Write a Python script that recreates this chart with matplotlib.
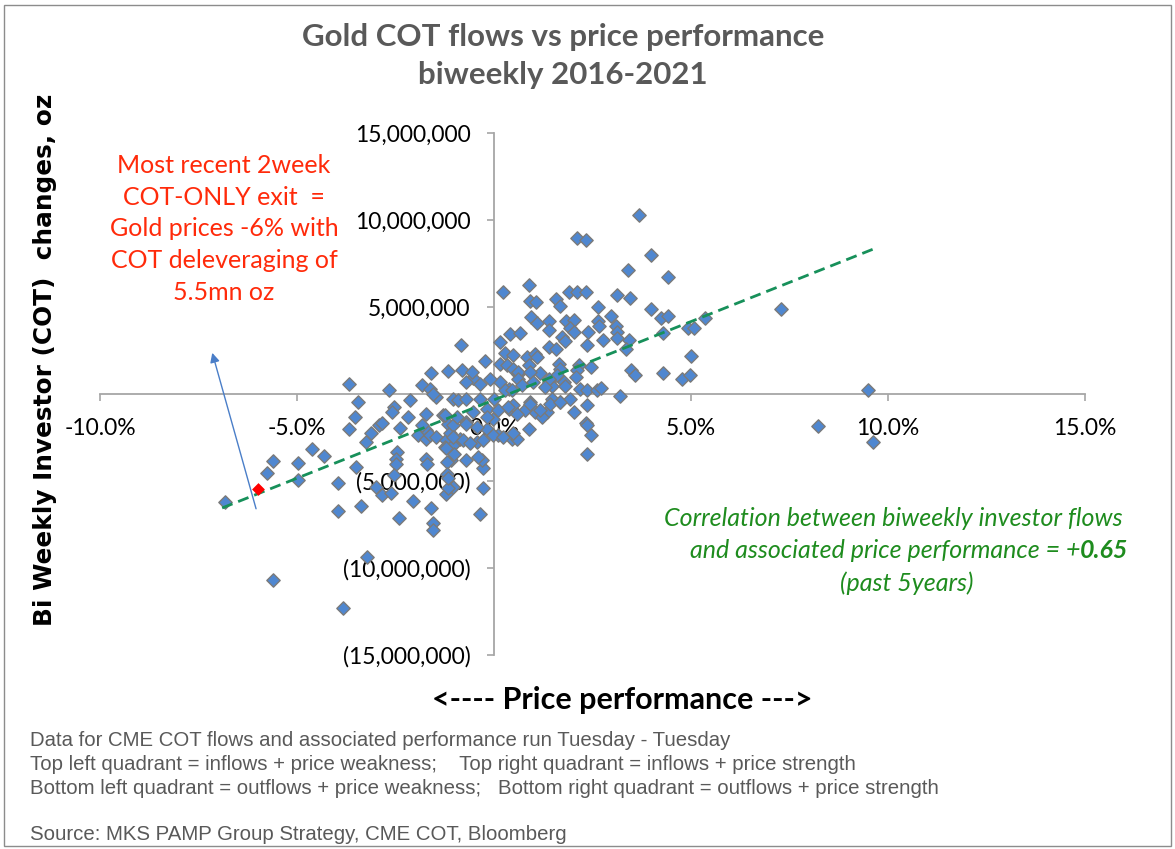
import numpy as np
import matplotlib
matplotlib.use('Agg')
from matplotlib import pyplot as plt
from matplotlib.ticker import FuncFormatter

# price change over two weeks, %
price_pct = [
    3.67, 2.11, 2.33, 3.98, 3.40, 4.42, 0.88, 0.22, 1.90, 2.11, 2.33, 1.58, 1.67, 0.92, 1.06,
    3.13, 3.45, 2.65, 2.96, 3.98, 4.23, 4.41, 5.36, 4.92, 5.08, 4.28, 5.00, 3.47, 3.57, 4.30,
    4.78, 4.98, 3.20, 2.64, 2.66, 3.09, 3.13, 2.76, 3.11, 3.43, 3.36, 1.84, 2.04, 0.94, 1.09,
    1.39, 1.94, 2.04, 1.39, 0.41, 0.65, 0.15, 2.38, 1.73, 1.81, 2.35, 1.39, 1.58, 0.28, 0.47,
    0.83, 1.05, 1.09, 0.90, 0.15, 0.32, 0.49, 0.62, 1.17, 1.64, 1.67, 1.61, 2.15, 2.11, 2.45,
    2.07, 1.39, 1.47, 1.77, 1.81, 2.19, 2.36, 2.62, 2.72, 0.39, 0.14, -0.10, 0.62, 0.62, 0.71,
    0.92, 0.99, 0.28, 0.45, 1.39, 1.30, 7.28, 9.49,
    0.92, 1.05, 1.34, 1.47, 1.68, 1.92, 0.38, 0.49, 0.79, 1.22, 2.04, 2.35, 2.33, 0.88, 2.35,
    2.45, 2.36, 0.11, 0.45, 0.58, 8.23, 9.61,
    -0.29, -0.31, -0.27, -0.36, -0.70, -0.40, -1.08, -6.84, -5.77, -5.61, -4.97, -4.97, -4.61,
    -4.31, -3.46, -3.52, -3.69, -3.25, -3.12, -2.91, -2.84, -3.95, -3.95, -3.38, -3.50, -2.55,
    -2.58, -2.14, -2.19, -2.38, -2.47, -2.48, -2.48, -2.55, -2.99, -2.84, -2.61, -2.42, -2.06,
    -1.59, -1.55, -1.55, -1.93, -1.72, -1.72, -1.84, -1.72, -1.69, -1.19, -1.19, -1.21, -1.04,
    -5.61, -3.83, -3.22, -1.72, -1.48, -1.63, -1.29, -1.17, -1.46, -1.21, -1.12, -1.25, -1.04,
    -1.02, -1.16, -1.16,
    -3.69, -2.67, -1.82, -1.63, -1.55, -1.59, -1.17, -0.82, -0.85, -0.53, -0.23, -0.57, -0.71,
    -0.36,
    -1.25, -1.04, -0.91, -0.70, -0.53, -0.36, -0.19, -0.70, -1.04, -0.87, -0.44, -0.19, -0.02,
    -1.21, 0.00, -0.95, -0.70, -0.44, -0.19, 0.11, 0.36, 0.58, 0.92, 1.17, 1.43, 1.68, -1.04,
    -0.78, -0.61, -0.27, -0.02, 0.24, 0.49,
]

# change in investor COT positioning, million oz
cot_mn_oz = [
    10.30, 8.98, 8.83, 8.00, 7.14, 6.70, 6.28, 5.84, 5.84, 5.84, 5.84, 5.45, 5.07, 5.36, 5.27,
    5.70, 5.49, 5.02, 4.46, 4.88, 4.35, 4.46, 4.35, 3.78, 3.78, 3.49, 2.21, 1.36, 1.10, 1.22,
    0.84, 1.10, -0.13, 4.22, 3.89, 3.89, 3.59, 3.13, 3.21, 3.13, 2.56, 4.22, 4.28, 4.41, 4.08,
    4.22, 3.78, 3.59, 3.65, 3.45, 3.51, 2.98, 3.55, 3.26, 3.07, 2.84, 2.69, 2.56, 2.37, 2.25,
    2.12, 2.31, 2.12, 1.64, 1.73, 1.68, 1.45, 1.16, 1.22, 1.73, 1.45, 1.07, 1.68, 1.36, 1.55,
    0.97, 0.69, 0.46, 0.69, 0.46, 0.30, 0.21, 0.21, 0.34, 0.30, 0.69, 0.88, 1.26, 0.88, 0.50,
    1.26, 0.69, 0.21, 0.21, 0.88, 0.40, 4.88, 0.25,
    -0.46, -1.03, -1.03, -0.27, -0.46, -0.27, -0.84, -0.65, -0.93, -1.32, -1.03, -0.61, -1.64,
    -1.99, -1.76, -2.33, -3.42, -2.37, -2.56, -2.60, -1.83, -2.75,
    -4.24, -3.80, -5.38, -6.90, -3.80, -3.60, -3.80, -6.18, -4.56, -3.85, -3.99, -4.94, -3.17,
    -3.55, -0.46, -1.32, -2.02, -2.75, -2.27, -1.76, -1.64, -5.13, -6.75, -6.41, -4.18, -0.74,
    -1.03, -0.36, -1.32, -1.95, -3.32, -3.74, -4.05, -4.65, -5.32, -5.80, -5.71, -7.10, -6.14,
    -6.57, -7.42, -7.80, -2.33, -2.08, -2.60, -1.76, -3.74, -4.05, -3.93, -4.62, -5.76, -5.32,
    -10.67, -12.29, -9.39, -1.16, -0.17, -2.37, -1.22, -1.70, -2.46, -2.65, -2.27, -3.03, -2.94,
    -3.42, -5.42, -4.85,
    0.59, 0.21, 0.50, 0.27, 0.02, 1.22, 1.30, 1.36, 2.79, 0.92, 1.87, 1.26, 0.69,
    0.59,
    -1.18, -0.27, -0.36, -0.27, -1.03, -0.27, -0.84, -1.60, -1.79, -2.56, -2.75, -1.99, -1.41,
    -3.13, -0.27, -1.32, -1.70, -1.89, -1.32, -0.93, -0.74, -1.13, -0.56, -0.93, -0.56, -0.46, -2.46,
    -2.65, -2.84, -2.65, -2.37, -2.46, -2.27,
]

# latest two-week reading
latest_pct = -5.99
latest_mn_oz = -5.48

# linear trend end points
trend_pct = [-6.9, 9.65]
trend_mn_oz = [-6.55, 8.35]

# arrow from the latest point towards the note
arrow_tail = (-6.02, -6.75)
arrow_head = (-7.17, 2.52)

x_ticks = [-10, -5, 0, 5, 10, 15]
y_ticks = [-15e6, -10e6, -5e6, 0, 5e6, 10e6, 15e6]

title = 'Gold COT flows vs price performance\nbiweekly 2016-2021'
note_red = 'Most recent 2week\nCOT-ONLY exit  =\nGold prices -6% with\nCOT deleveraging of\n5.5mn oz'
footnotes = [
    'Data for CME COT flows and associated performance run Tuesday - Tuesday',
    'Top left quadrant = inflows + price weakness;    Top right quadrant = inflows + price strength',
    'Bottom left quadrant = outflows + price weakness;   Bottom right quadrant = outflows + price strength',
]
source = 'Source: MKS PAMP Group Strategy, CME COT, Bloomberg'

plt.rcParams['font.family'] = ['Lato', 'DejaVu Sans']

fig = plt.figure(figsize=(11.75, 8.49), dpi=100)
ax = fig.add_axes([100 / 1175, 1 - 655 / 849, 985 / 1175, 522 / 849])

y_vals = np.array(cot_mn_oz) * 1e6
ax.scatter(price_pct, y_vals, marker='D', s=46, color='#4F87D0',
           edgecolors='#7A7A7A', linewidths=1.0, zorder=3)
ax.scatter([latest_pct], [latest_mn_oz * 1e6], marker='D', s=36, color='#FF0000',
           edgecolors='#FF0000', linewidths=0.5, zorder=5)
ax.plot(trend_pct, np.array(trend_mn_oz) * 1e6, linestyle=(0, (4, 2.2)), color='#17905A',
        linewidth=2.0, zorder=4)
ax.annotate('', xy=(arrow_head[0], arrow_head[1] * 1e6),
            xytext=(arrow_tail[0], arrow_tail[1] * 1e6),
            arrowprops=dict(arrowstyle='-|>', color='#4A7EC8', lw=1.0, mutation_scale=14),
            zorder=6)

ax.set_xlim(-10, 15)
ax.set_ylim(-15e6, 15e6)
ax.set_xticks(x_ticks)
ax.set_yticks(y_ticks)
ax.xaxis.set_major_formatter(FuncFormatter(lambda v, p: f'{v:.1f}%'))


def fmt_oz(v, p):
    if v == 0:
        return ''
    if v < 0:
        return f'({abs(v):,.0f})'
    return f'{v:,.0f}'


ax.yaxis.set_major_formatter(FuncFormatter(fmt_oz))

for side in ['top', 'right']:
    ax.spines[side].set_visible(False)
ax.spines['left'].set_position(('data', 0))
ax.spines['bottom'].set_position(('data', 0))
for side in ['left', 'bottom']:
    ax.spines[side].set_color('#A6A6A6')
    ax.spines[side].set_linewidth(1.3)
ax.tick_params(axis='x', direction='out', length=5, width=1.2, color='#A6A6A6',
               labelsize=16.5, pad=12, labelcolor='black')
ax.tick_params(axis='y', direction='out', length=5, width=1.2, color='#A6A6A6',
               labelsize=16.5, pad=12, labelcolor='black')
ax.set_facecolor('none')

fig.text(563 / 1175, 1 - 56 / 849, title, ha='center', va='center', fontsize=22.5,
         fontweight='bold', color='#595959', linespacing=1.4)
fig.text(224 / 1175, 1 - 229 / 849, note_red, ha='center', va='center', fontsize=18,
         color='#FF2A0A', linespacing=1.45)

green = '#1E8C1E'
fig.text(893 / 1175, 1 - 519 / 849, 'Correlation between biweekly investor flows',
         ha='center', va='center', fontsize=18, style='italic', color=green)
fig.text(1080 / 1175, 1 - 551 / 849, 'and associated price performance = +',
         ha='right', va='center', fontsize=18, style='italic', color=green)
fig.text(1080 / 1175, 1 - 551 / 849, '0.65', ha='left', va='center', fontsize=18,
         style='italic', fontweight='bold', color=green)
fig.text(907 / 1175, 1 - 583 / 849, '(past 5years)', ha='center', va='center',
         fontsize=18, style='italic', color=green)

fig.text(45 / 1175, 1 - 360 / 849, 'Bi Weekly Investor (COT)  changes, oz', rotation=90,
         ha='center', va='center', fontsize=17.8, fontweight='bold',
         family=['DejaVu Sans'], color='black')
fig.text(622 / 1175, 1 - 700 / 849, '<---- Price performance --->', ha='center',
         va='center', fontsize=22, fontweight='bold', color='black')

for i, line in enumerate(footnotes):
    fig.text(30 / 1175, 1 - (741 + i * 23.5) / 849, line, ha='left', va='center',
             fontsize=14.7, color='#595959', family=['Liberation Sans'])
fig.text(30 / 1175, 1 - 834 / 849, source, ha='left', va='center', fontsize=14.7,
         color='#595959', family=['Liberation Sans'])

fig.patches.append(plt.Rectangle((0.003, 0.003), 0.994, 0.991, transform=fig.transFigure,
                                 fill=False, edgecolor='#8C8C8C', linewidth=1.0))

fig.savefig('out.png', dpi=100)
